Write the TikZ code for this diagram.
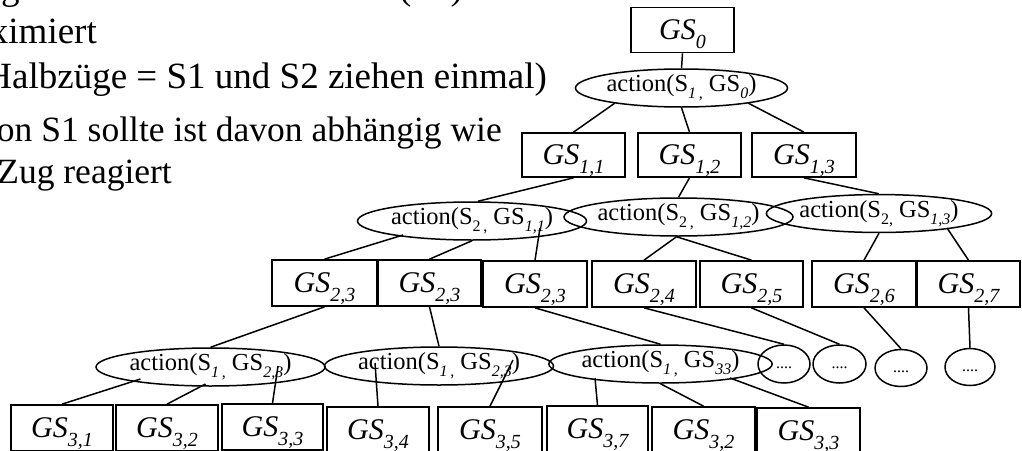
\documentclass[tikz,border=0pt]{standalone}
\usepackage{fontspec}
\setmainfont{Liberation Serif}
\usetikzlibrary{shapes.geometric,calc}
\newcommand{\gsl}[1]{\textit{GS}\raisebox{-0.3em}{\fontsize{20}{20}\selectfont\itshape #1}}
\newcommand{\actl}[2]{action(S\raisebox{-0.3em}{\fontsize{16}{16}\selectfont #1}\hspace{0.25em}GS\raisebox{-0.3em}{\fontsize{16}{16}\selectfont\itshape #2})}
\tikzset{
  gsbox/.style={draw, line width=1.7pt, minimum width=103pt, minimum height=45pt, inner sep=0pt, text height=25pt, text depth=6pt, font=\fontsize{30}{30}\selectfont},
  act/.style={draw, ellipse, line width=1.5pt, minimum width=190pt, minimum height=38pt, inner sep=0pt, font=\fontsize{24.5}{24.5}\selectfont},
  dotsel/.style={draw, ellipse, line width=1.5pt, minimum width=52pt, minimum height=38pt, inner sep=0pt, text height=8pt, text depth=0pt, font=\fontsize{16}{16}\selectfont},
  conn/.style={line width=1.5pt},
  lefttext/.style={inner sep=0pt, font=\fontsize{37}{37}\selectfont},
  lefttextb/.style={inner sep=0pt, font=\fontsize{35.5}{35.5}\selectfont}
}
\begin{document}
\begin{tikzpicture}[x=1pt,y=-1pt]
\useasboundingbox (0,0) rectangle (1022,450);
\clip (0,0) rectangle (1022,450);
% left text (cropped at the picture's edges, as in the reference)
\node[lefttext, anchor=base west] (t0a) at (1,-1) {g};
\node[lefttext, anchor=base west] (t0b) at (399,-1) {(\phantom{KI})};
\node[lefttext, anchor=base east] (t1) at (97,43) {maximiert};
\node[lefttext, anchor=base east] (t2) at (547,88) {Halbzüge = S1 und S2 ziehen einmal)};
\node[lefttextb, anchor=base east] (t3) at (502,141) {on S1 sollte ist davon abhängig wie};
\node[lefttextb, anchor=base east] (t4) at (172,183) {Zug reagiert};
% level 0
\node[gsbox] (g0) at (682.5,30) {\gsl{0}};
\node[act, minimum width=191pt] (e0) at (681.5,88) {\actl{\textit{1}\,,}{0}};
% level 1
\node[gsbox, minimum height=44pt] (g11) at (573.5,155) {\gsl{1,1}};
\node[gsbox, minimum height=44pt] (g12) at (689.5,155) {\gsl{1,2}};
\node[gsbox, minimum height=44pt, minimum width=104pt] (g13) at (804,155) {\gsl{1,3}};
\node[act] (e11) at (472,221) {\actl{2\,,}{1,1}};
\node[act, minimum width=187pt] (e12) at (678.5,217) {\actl{2\,,}{1,2}};
\node[act, minimum width=188pt, minimum height=37pt] (e13) at (879,213.5) {\actl{2,}{1,3}};
% level 2
\node[gsbox, minimum width=105pt, minimum height=46pt] (g23a) at (324.5,283) {\gsl{2,3}};
\node[gsbox, minimum height=46pt] (g23b) at (429.5,283) {\gsl{2,3}};
\node[gsbox, minimum width=104pt, minimum height=46pt] (g23c) at (535,284) {\gsl{2,3}};
\node[gsbox, minimum width=104pt, minimum height=46pt] (g24) at (644,284) {\gsl{2,4}};
\node[gsbox, minimum height=46pt] (g25) at (751.5,284) {\gsl{2,5}};
\node[gsbox, minimum width=104pt, minimum height=46pt] (g26) at (864,284) {\gsl{2,6}};
\node[gsbox, minimum height=46pt] (g27) at (968.5,284) {\gsl{2,7}};
\node[act, minimum width=191pt] (el) at (210.5,367) {\actl{\textit{1}\,,}{2,3}};
\node[act, minimum width=191pt] (e2) at (439,366) {\actl{\textit{1}\,,}{2,3}};
\node[act, minimum width=189pt] (e3) at (660.5,364) {\actl{\textit{1}\,,}{33}};
\node[dotsel] (da) at (784,364) {....};
\node[dotsel, minimum width=53pt] (db) at (839.5,364) {....};
\node[dotsel, minimum height=37pt] (dc) at (901,368) {....};
\node[dotsel, minimum width=50pt, minimum height=37pt] (dd) at (970,367) {....};
% level 3 (bottom edges fall outside the picture)
\node[gsbox, minimum width=102pt, minimum height=46pt] (g31) at (62,428) {\gsl{3,1}};
\node[gsbox, minimum width=102pt, minimum height=46pt] (g32) at (167,428) {\gsl{3,2}};
\node[gsbox, minimum width=101pt, minimum height=46pt] (g33) at (272.5,427) {\gsl{3,3}};
\node[gsbox, minimum width=102pt, minimum height=46pt] (g34) at (378,430) {\gsl{3,4}};
\node[gsbox, minimum width=104pt, minimum height=46pt] (g35) at (490,430) {\gsl{3,5}};
\node[gsbox, minimum width=101pt, minimum height=46pt] (g37) at (597.5,429) {\gsl{3,7}};
\node[gsbox, minimum height=46pt] (g32b) at (703.5,430) {\gsl{3,2}};
\node[gsbox, minimum height=46pt] (g33b) at (808.5,431) {\gsl{3,3}};
% connectors
\draw[conn] (g0.south) -- (e0.north);
\draw[conn] ($(e0.center)+(-66.5,15)$) -- (g11.north);
\draw[conn] (e0.south) -- (g12.north);
\draw[conn] ($(e0.center)+(66.5,15)$) -- (g13.north);
\draw[conn] (g11.south) -- ($(e11.north)+(6,0)$);
\draw[conn] (g12.south) -- (e12.north);
\draw[conn] (g13.south) -- (e13.north);
\draw[conn] ($(e11.center)+(-69,14)$) -- (g23a.north);
\draw[conn] (e11.south) -- (g23b.north);
\draw[conn] ($(e11.center)+(68,7)$) -- (g23c.north);
\draw[conn] ($(e12.south)+(-2,0)$) -- (g24.north);
\draw[conn] ($(e12.south)+(-2,0)$) -- (g25.north);
\draw[conn] (e13.south) -- (g26.north);
\draw[conn] ($(e13.center)+(68,14.5)$) -- (g27.north);
\draw[conn] (g23a.south) -- (el.north);
\draw[conn] (g23b.south) -- (e2.north);
\draw[conn] (g23c.south) -- (e3.north);
\draw[conn] (g24.south) -- (da.north);
\draw[conn] (g25.south) -- (db.north);
\draw[conn] (g26.south) -- (dc.north);
\draw[conn] (g27.south) -- (dd.north);
\draw[conn] ($(el.center)+(-70,12)$) -- (g31.north);
\draw[conn] ($(el.center)+(-5,17)$) -- (g32.north);
\draw[conn] ($(el.center)+(67.5,-1)$) -- (g33.north);
\draw[conn] ($(e2.center)+(-64,-3)$) -- (g34.north);
\draw[conn] ($(e2.center)+(74,-6)$) -- (g35.north);
\draw[conn] ($(e3.center)+(-65.5,14)$) -- (g37.north);
\draw[conn] (e3.south) -- (g32b.north);
\draw[conn] ($(e3.center)+(69.5,14)$) -- (g33b.north);
\end{tikzpicture}
\end{document}
